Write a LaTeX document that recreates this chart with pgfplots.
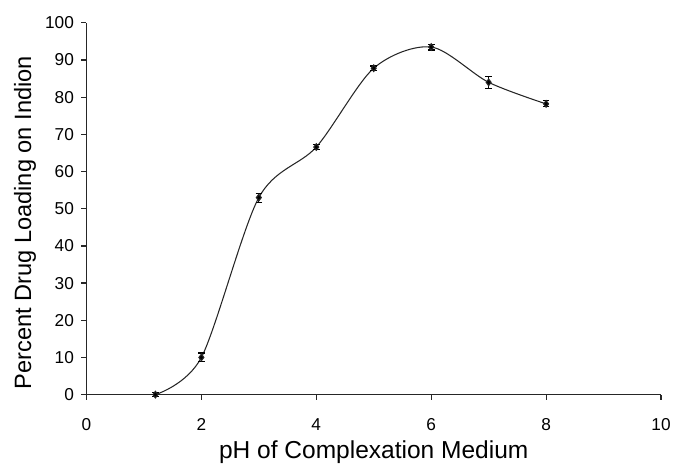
\documentclass[border=0pt]{standalone}
\usepackage{pgfplots}
\pgfplotsset{compat=1.18}
\usepackage{fontspec}
\setmainfont{Liberation Sans}
\begin{document}
\begin{tikzpicture}
\begin{axis}[
  scale only axis,
  width=433.5pt, height=280.5pt,
  xmin=0, xmax=10, ymin=0, ymax=100,
  axis lines=left,
  axis line style={-, line width=0.9pt, black!85},
  xtick={0,2,...,10}, ytick={0,10,...,100},
  tick style={line width=0.9pt, black!85},
  tick align=outside,
  major tick length=4pt,
  tick label style={font=\fontsize{13}{15}\selectfont},
  xticklabel style={yshift=-10.5pt},
  yticklabel style={xshift=-2pt},
  /pgf/number format/assume math mode=true,
  xlabel={pH of Complexation Medium},
  ylabel={Percent Drug Loading on Indion},
  xlabel style={font=\fontsize{18.5}{21}\selectfont, yshift=-1pt},
  ylabel style={font=\fontsize{17.8}{20}\selectfont, yshift=0pt, xshift=-10.5pt},
  clip=false,
]
\addplot[black!85, line width=0.8pt, smooth, tension=0.5,
  mark=diamond*, mark size=2.5pt, mark options={solid, fill=black},
  error bars/.cd, y dir=both, y explicit,
  error bar style={line width=0.8pt, black},
  error mark options={rotate=90, mark size=2.5pt, line width=0.8pt}]
  table[x=x, y=y, y error=e] {
  x y e
  1.2 0 0.5
  2 10 1.2
  3 53 1.2
  4 66.6 0.6
  5 87.8 0.6
  6 93.5 0.8
  7 84 1.6
  8 78.2 0.8
};
\end{axis}
\path[use as bounding box] (current axis.south west) ++(-65.25pt,-48.75pt) rectangle ++(506.25pt,346.5pt);
\end{tikzpicture}
\end{document}
